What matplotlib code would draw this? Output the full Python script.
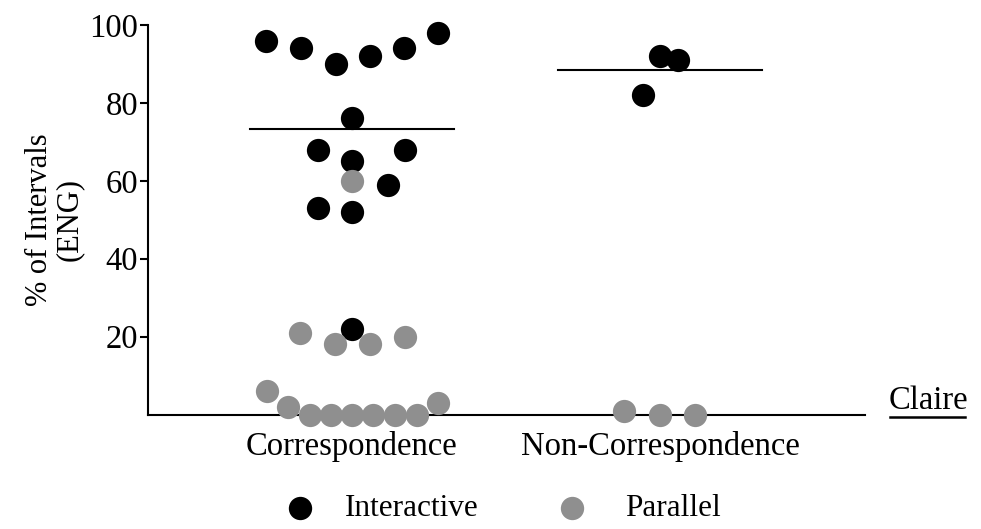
import numpy as np
import matplotlib
matplotlib.use("Agg")
import matplotlib.pyplot as plt
from matplotlib.lines import Line2D

plt.rcParams["font.family"] = ["Liberation Serif", "DejaVu Serif"]

categories = ["Correspondence", "Non-Correspondence"]

# % of intervals, per session
corr_interactive = [96, 94, 90, 92, 94, 98, 76, 68, 65, 68, 59, 53, 52, 22]
corr_parallel = [60, 21, 18, 18, 20, 6, 2, 0, 0, 0, 0, 0, 0, 3]
noncorr_interactive = [92, 91, 82]
noncorr_parallel = [1, 0, 0]

# horizontal scatter offsets (category units) so the dots do not pile up
corr_int_off = [-0.279, -0.166, -0.052, 0.058, 0.169, 0.279, 0, -0.110,
                0, 0.172, 0.117, -0.110, 0, 0]
corr_par_off = [0, -0.169, -0.055, 0.058, 0.172, -0.276, -0.208, -0.136,
                -0.068, 0, 0.068, 0.140, 0.211, 0.279]
noncorr_int_off = [0, 0.058, -0.055]
noncorr_par_off = [-0.117, 0, 0.114]

black = "#000000"
grey = "#8f8f8f"
msize = 280
fs = 23.5

fig = plt.figure(figsize=(9.81, 5.29), dpi=100)
ax = fig.add_axes([148 / 981, 1 - 414.5 / 529, (865 - 148) / 981, (414.5 - 25) / 529])

groups = [
    (0, corr_interactive, corr_int_off, corr_parallel, corr_par_off),
    (1, noncorr_interactive, noncorr_int_off, noncorr_parallel, noncorr_par_off),
]
for xc, yi, oi, yp, op in groups:
    ax.scatter(xc + np.array(oi), yi, s=msize, color=black, lw=0,
               zorder=3, clip_on=False)
    ax.scatter(xc + np.array(op), yp, s=msize, color=grey, lw=0,
               zorder=4, clip_on=False)
    m = np.mean(yi)
    ax.plot([xc - 0.331, xc + 0.331], [m, m], color="black", lw=1.5, zorder=5)

ax.set_xlim(-0.6623, 1.6656)
ax.set_ylim(0, 100)
ax.set_yticks([20, 40, 60, 80, 100])
ax.set_xticks([0, 1])
ax.set_xticklabels(categories, fontsize=fs)
ax.tick_params(axis="x", length=0, pad=12)
ax.tick_params(axis="y", length=6, width=1.5, labelsize=fs, pad=1)
for side in ["top", "right"]:
    ax.spines[side].set_visible(False)
for side in ["left", "bottom"]:
    ax.spines[side].set_linewidth(1.5)
ax.set_ylabel("% of Intervals\n(ENG)", fontsize=22, linespacing=1.05, labelpad=4)

# "Claire" tag, underlined
fig.text(889 / 981, 1 - 409 / 529, "Claire", fontsize=fs, ha="left", va="baseline")
fig.add_artist(Line2D([890 / 981, 965 / 981], [1 - 417 / 529, 1 - 417 / 529],
                      color="black", lw=1.8))

# legend
for xm, col, lab, xt in [(300, black, "Interactive", 345), (572, grey, "Parallel", 625)]:
    fig.add_artist(Line2D([xm / 981], [1 - 508 / 529], marker="o", ms=16.8,
                          color=col, mew=0, ls="none"))
    fig.text(xt / 981, 1 - 508 / 529, lab, fontsize=fs - 1, ha="left", va="center")

fig.savefig("out.png", dpi=100)
plt.close(fig)
